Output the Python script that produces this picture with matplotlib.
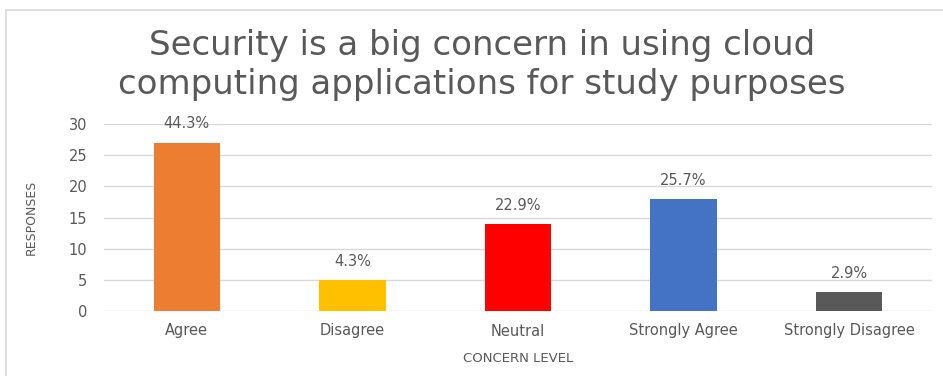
import matplotlib.pyplot as plt
from matplotlib.patches import Rectangle

# Responses per concern level
niveles = ['Agree', 'Disagree', 'Neutral', 'Strongly Agree', 'Strongly Disagree']
respuestas = [27, 5, 14, 18, 3]
porcentajes = ['44.3%', '4.3%', '22.9%', '25.7%', '2.9%']
colores = ['#ED7D31', '#FFC000', '#FF0000', '#4472C4', '#595959']
titulo = ['Security is a big concern in using cloud',
          'computing applications for study purposes']

gris = '#595959'
plt.rcParams['font.family'] = ['DejaVu Sans']

W, H = 943, 376
fig = plt.figure(figsize=(W / 100, H / 100), dpi=100)
ax = fig.add_axes([104 / W, 1 - 311 / H, 828 / W, 187 / H])

# Chart area border (right and bottom run off the image)
fig.patches.append(Rectangle((6 / W, -0.2), 1.2, 1.2 - 10 / H,
                             transform=fig.transFigure, fill=False,
                             edgecolor='#d9d9d9', linewidth=1.2))

x = range(len(niveles))
barras = ax.bar(x, respuestas, width=0.4, color=colores, zorder=3)
for barra, texto in zip(barras, porcentajes):
    ax.text(barra.get_x() + barra.get_width() / 2, barra.get_height() + 1.8, texto,
            ha='center', va='bottom', fontsize=10.5, color=gris, zorder=4)

ax.set_xlim(-0.5, len(niveles) - 0.5)
ax.set_ylim(0, 30)
ax.set_yticks(range(0, 31, 5))
ax.set_xticks(list(x))
ax.set_xticklabels(niveles)
ax.grid(axis='y', color='#d9d9d9', linewidth=1, zorder=0)
for lado in ax.spines.values():
    lado.set_visible(False)
ax.tick_params(length=0, colors=gris, labelsize=10.5)
ax.tick_params(axis='x', pad=9)
ax.tick_params(axis='y', pad=12)

ax.set_ylabel('RESPONSES', fontsize=9, color=gris, labelpad=22)
ax.set_xlabel('CONCERN LEVEL', fontsize=9.5, color=gris, labelpad=10)

# Two-line title, each line placed on its own baseline
for linea, base in zip(titulo, [55, 94]):
    fig.text(482 / W, 1 - base / H, linea, ha='center', va='baseline',
             fontsize=24.5, color=gris)

fig.savefig('out.png', dpi=100)
